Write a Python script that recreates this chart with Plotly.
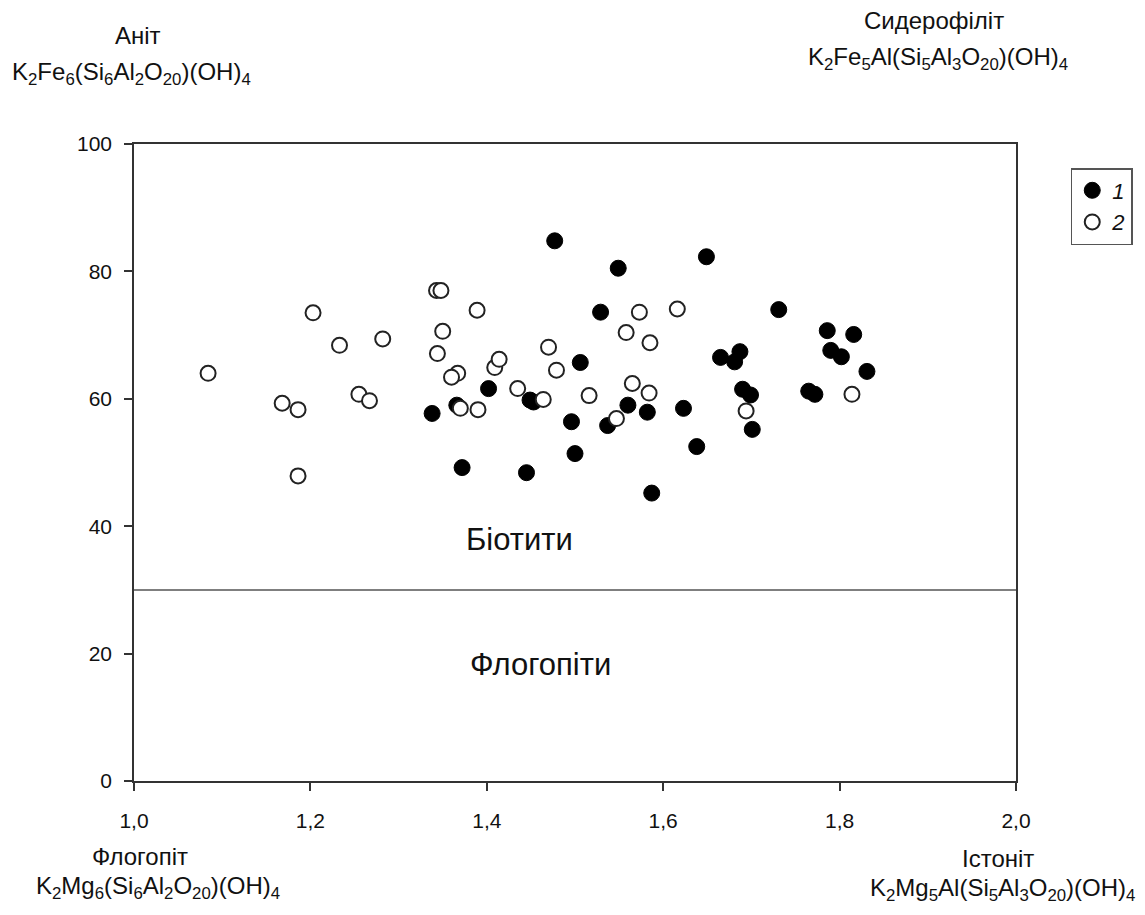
import plotly.graph_objects as go

# Series 1 (filled circles)
x1 = [1.338, 1.366, 1.402, 1.372, 1.445, 1.449, 1.453, 1.477, 1.506, 1.496,
      1.500, 1.529, 1.549, 1.649, 1.560, 1.582, 1.537, 1.623, 1.638, 1.587,
      1.731, 1.786, 1.816, 1.790, 1.802, 1.831, 1.765, 1.772, 1.665, 1.687,
      1.681, 1.690, 1.699, 1.701]
y1 = [57.7, 59.0, 61.6, 49.2, 48.4, 59.8, 59.5, 84.8, 65.7, 56.4,
      51.4, 73.6, 80.5, 82.3, 59.0, 57.9, 55.8, 58.5, 52.5, 45.2,
      74.0, 70.7, 70.1, 67.6, 66.6, 64.3, 61.2, 60.7, 66.5, 67.4,
      65.8, 61.5, 60.6, 55.2]

# Series 2 (open circles)
x2 = [1.084, 1.168, 1.186, 1.186, 1.203, 1.233, 1.282, 1.255, 1.267, 1.350,
      1.344, 1.367, 1.360, 1.370, 1.390, 1.343, 1.348, 1.389, 1.409, 1.414,
      1.435, 1.464, 1.470, 1.479, 1.516, 1.573, 1.616, 1.558, 1.585, 1.565,
      1.584, 1.547, 1.694, 1.814]
y2 = [64.0, 59.3, 58.3, 47.9, 73.5, 68.4, 69.4, 60.7, 59.7, 70.6,
      67.1, 64.0, 63.4, 58.5, 58.3, 77.0, 77.0, 73.9, 64.9, 66.2,
      61.6, 59.9, 68.1, 64.5, 60.5, 73.6, 74.1, 70.4, 68.8, 62.4,
      60.9, 56.9, 58.1, 60.7]

series_names = ["<i>1</i>", "<i>2</i>"]
x_ticks = [1.0, 1.2, 1.4, 1.6, 1.8, 2.0]
y_ticks = [0, 20, 40, 60, 80, 100]
boundary_y = 30
FONT = "Liberation Sans, Arial, sans-serif"

fig = go.Figure()
fig.add_trace(go.Scatter(
    x=x1, y=y1, mode="markers", name=series_names[0],
    marker=dict(symbol="circle", size=16, color="black",
                line=dict(color="black", width=1))))
fig.add_trace(go.Scatter(
    x=x2, y=y2, mode="markers", name=series_names[1],
    marker=dict(symbol="circle", size=15, color="white",
                line=dict(color="#222222", width=2))))

fig.add_shape(type="line", xref="x", yref="y", x0=1.0, x1=2.0,
              y0=boundary_y, y1=boundary_y,
              line=dict(color="#555555", width=1.5))

OFF = 8  # page body margin
# plot area in window pixels: x 134..1020, y 144..781
L, T = 134 - OFF, 144 - OFF
PW, PH = 886, 637
W, H = 1145 - OFF, 915 - OFF
R = W - L - PW
B = H - T - PH


def px(xp, yp):
    return (xp - OFF - L) / PW, (H - B - (yp - OFF)) / PH


def ann(text, xp, yp, size=24):
    ax, ay = px(xp, yp)
    fig.add_annotation(text=text, x=ax, y=ay, xref="paper", yref="paper",
                       showarrow=False, xanchor="center", yanchor="middle",
                       font=dict(family=FONT, size=size, color="#111111"))


ann("Аніт", 138, 35)
ann("K<sub>2</sub>Fe<sub>6</sub>(Si<sub>6</sub>Al<sub>2</sub>O<sub>20</sub>)(OH)<sub>4</sub>", 131, 74)
ann("Сидерофіліт", 938, 21)
ann("K<sub>2</sub>Fe<sub>5</sub>Al(Si<sub>5</sub>Al<sub>3</sub>O<sub>20</sub>)(OH)<sub>4</sub>", 942, 58)
ann("Флогопіт", 140, 857)
ann("K<sub>2</sub>Mg<sub>6</sub>(Si<sub>6</sub>Al<sub>2</sub>O<sub>20</sub>)(OH)<sub>4</sub>", 158, 887)
ann("Істоніт", 1002, 858)
ann("K<sub>2</sub>Mg<sub>5</sub>Al(Si<sub>5</sub>Al<sub>3</sub>O<sub>20</sub>)(OH)<sub>4</sub>", 1006, 890)
ann("Біотити", 521, 539, size=31)
ann("Флогопіти", 542, 664, size=31)

fig.update_layout(
    width=W, height=H,
    margin=dict(l=L, r=R, t=T, b=B),
    plot_bgcolor="white", paper_bgcolor="white",
    separators=", ",
    font=dict(family=FONT, size=21, color="#111111"),
    showlegend=True,
    legend=dict(x=(1075 - 134) / PW, y=(781 - 168) / PH,
                xanchor="left", yanchor="top",
                bordercolor="#555555", borderwidth=1.5,
                font=dict(family=FONT, size=22, color="#111111"),
                itemwidth=30, tracegroupgap=4, bgcolor="white"),
)
fig.update_xaxes(range=[1.0, 2.0], tickvals=x_ticks, tickformat=".1f",
                 showgrid=False, zeroline=False, showline=True, mirror=True,
                 linecolor="#333333", linewidth=1.5, ticks="outside",
                 ticklen=8, tickwidth=1.5, tickcolor="#333333",
                 tickfont=dict(size=21), ticklabelstandoff=12)
fig.update_yaxes(range=[0, 100], tickvals=y_ticks,
                 showgrid=False, zeroline=False, showline=True, mirror=True,
                 linecolor="#333333", linewidth=1.5, ticks="outside",
                 ticklen=8, tickwidth=1.5, tickcolor="#333333",
                 tickfont=dict(size=21), ticklabelstandoff=8)

fig.write_html("out.html")
